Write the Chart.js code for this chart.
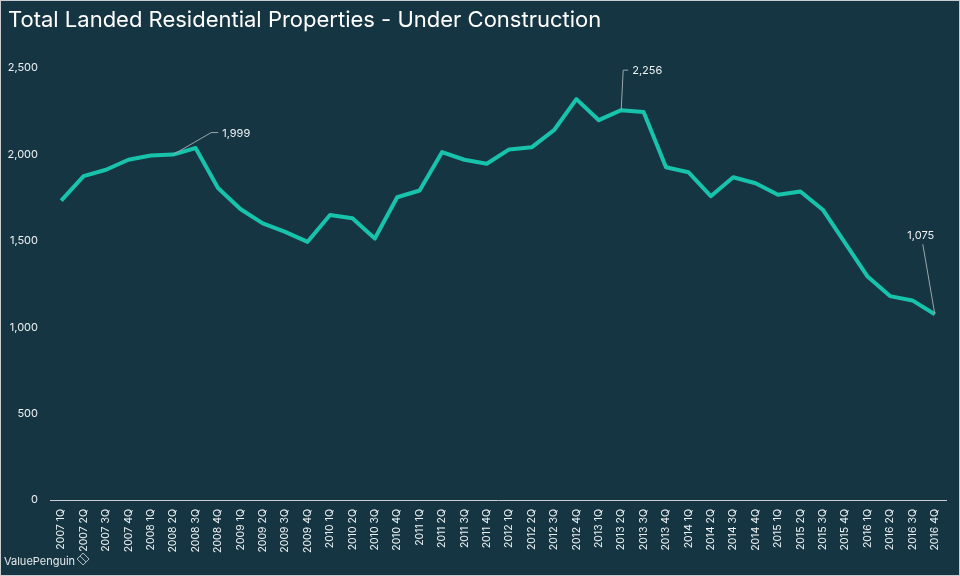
<!DOCTYPE html>
<html>
<head>
<meta charset="utf-8">
<script src="https://cdn.jsdelivr.net/npm/chart.js@4/dist/chart.umd.min.js"></script>
<style>
  html, body { margin: 0; padding: 0; background: #163543; }
  #wrap { width: 960px; height: 576px; position: relative; }
</style>
</head>
<body>
<div id="wrap"><canvas id="chart"></canvas></div>
<script>
const QUARTERS = [
  "2007 1Q", "2007 2Q", "2007 3Q", "2007 4Q",
  "2008 1Q", "2008 2Q", "2008 3Q", "2008 4Q",
  "2009 1Q", "2009 2Q", "2009 3Q", "2009 4Q",
  "2010 1Q", "2010 2Q", "2010 3Q", "2010 4Q",
  "2011 1Q", "2011 2Q", "2011 3Q", "2011 4Q",
  "2012 1Q", "2012 2Q", "2012 3Q", "2012 4Q",
  "2013 1Q", "2013 2Q", "2013 3Q", "2013 4Q",
  "2014 1Q", "2014 2Q", "2014 3Q", "2014 4Q",
  "2015 1Q", "2015 2Q", "2015 3Q", "2015 4Q",
  "2016 1Q", "2016 2Q", "2016 3Q", "2016 4Q",
];

const UNDER_CONSTRUCTION = [
  1733, 1874, 1911, 1969,
  1994, 1999, 2037, 1806,
  1684, 1601, 1552, 1494,
  1649, 1630, 1513, 1752,
  1791, 2013, 1969, 1946,
  2029, 2041, 2140, 2320,
  2198, 2256, 2246, 1926,
  1897, 1758, 1868, 1833,
  1767, 1785, 1680, 1486,
  1293, 1180, 1155, 1075,
];

const Y_TICKS = [0, 500, 1000, 1500, 2000, 2500];

// points that get a callout label
const CALLOUTS = [5, 25, 39];

const TITLE = "Total Landed Residential Properties - Under Construction";
const BG = "#163543";
const LINE = "#17c3ab";
const TEXT = "#eef2f3";
const FONT = "Inter, 'Noto Sans', sans-serif";

const fmt = (v) => Number(v).toLocaleString("en-US");

const backdrop = {
  id: "backdrop",
  beforeDraw(chart) {
    const { ctx, width, height } = chart;
    ctx.save();
    ctx.fillStyle = BG;
    ctx.fillRect(0, 0, width, height);
    ctx.strokeStyle = "#c9cdd0";
    ctx.lineWidth = 1;
    ctx.strokeRect(0.5, 0.5, width - 1, height - 1);

    ctx.fillStyle = "#ffffff";
    ctx.font = `22px ${FONT}`;
    ctx.textBaseline = "middle";
    ctx.fillText(TITLE, 8, 20);

    // watermark
    ctx.font = `11px ${FONT}`;
    ctx.fillStyle = "#e6ebec";
    ctx.fillText("ValuePenguin", 4, 562);
    const w = ctx.measureText("ValuePenguin").width;
    const cx = 4 + w + 8, cy = 559;
    ctx.strokeStyle = "#b8c0c4";
    ctx.beginPath();
    ctx.moveTo(cx, cy - 6); ctx.lineTo(cx + 6, cy); ctx.lineTo(cx, cy + 6); ctx.lineTo(cx - 6, cy);
    ctx.closePath();
    ctx.moveTo(cx - 3, cy - 3); ctx.lineTo(cx + 3, cy + 3);
    ctx.stroke();
    ctx.restore();
  },
};

const callouts = {
  id: "callouts",
  afterDatasetsDraw(chart) {
    const { ctx } = chart;
    const meta = chart.getDatasetMeta(0);
    ctx.save();
    ctx.strokeStyle = "#9aa6ab";
    ctx.lineWidth = 1;
    ctx.fillStyle = TEXT;
    ctx.font = `11px ${FONT}`;
    ctx.textBaseline = "middle";
    CALLOUTS.forEach((i, n) => {
      const p = meta.data[i];
      const text = fmt(UNDER_CONSTRUCTION[i]);
      ctx.beginPath();
      if (n === 0) {
        ctx.moveTo(p.x, p.y);
        ctx.lineTo(p.x + 38, p.y - 22);
        ctx.lineTo(p.x + 45, p.y - 22);
        ctx.stroke();
        ctx.textAlign = "left";
        ctx.fillText(text, p.x + 49, p.y - 21);
      } else if (n === 1) {
        ctx.moveTo(p.x, p.y);
        ctx.lineTo(p.x + 2, p.y - 40);
        ctx.lineTo(p.x + 7, p.y - 40);
        ctx.stroke();
        ctx.textAlign = "left";
        ctx.fillText(text, p.x + 11, p.y - 39);
      } else {
        ctx.moveTo(p.x, p.y);
        ctx.lineTo(p.x - 12, p.y - 70);
        ctx.stroke();
        ctx.textAlign = "center";
        ctx.fillText(text, p.x - 14, p.y - 79);
      }
    });
    ctx.restore();
  },
};

new Chart(document.getElementById("chart"), {
  type: "line",
  data: {
    labels: QUARTERS,
    datasets: [
      {
        label: "Under Construction",
        data: UNDER_CONSTRUCTION,
        borderColor: LINE,
        borderWidth: 4,
        pointRadius: 0,
        tension: 0,
        borderJoinStyle: "round",
        fill: false,
      },
    ],
  },
  options: {
    responsive: true,
    maintainAspectRatio: false,
    animation: false,
    layout: { padding: { top: 68, right: 14, left: 0, bottom: 0 } },
    plugins: {
      legend: { display: false },
      tooltip: { enabled: false },
    },
    scales: {
      x: {
        offset: true,
        grid: { display: false, drawTicks: false },
        border: { color: "#c9cdd0", width: 1 },
        ticks: {
          color: TEXT,
          font: { family: FONT, size: 10.5 },
          minRotation: 90,
          maxRotation: 90,
          autoSkip: false,
          padding: 9,
        },
        afterFit: (s) => { s.height = 76; },
      },
      y: {
        min: 0,
        max: 2500,
        grid: { display: false, drawTicks: false },
        border: { display: false },
        afterBuildTicks: (s) => { s.ticks = Y_TICKS.map((v) => ({ value: v })); },
        ticks: {
          color: TEXT,
          font: { family: FONT, size: 11 },
          padding: 12,
          callback: (v) => fmt(v),
        },
        afterFit: (s) => { s.width = 50; },
      },
    },
  },
  plugins: [backdrop, callouts],
});
</script>
</body>
</html>
